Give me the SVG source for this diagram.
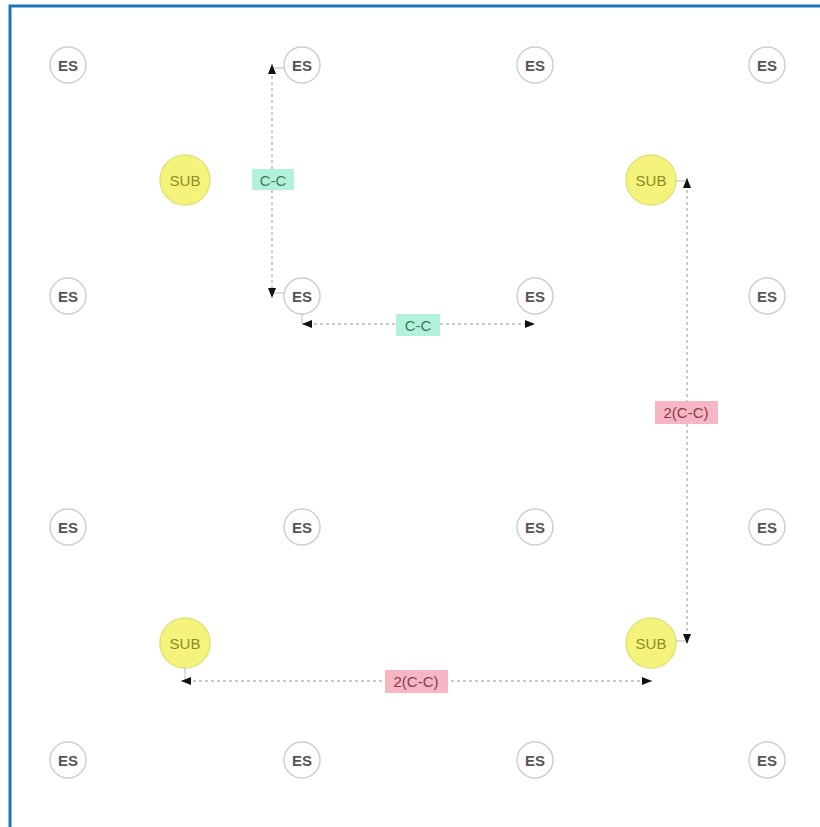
<svg xmlns="http://www.w3.org/2000/svg" width="820" height="827" viewBox="0 0 820 827">
<defs>
<marker id="arr" viewBox="0 0 10 10" refX="10" refY="5" markerWidth="10" markerHeight="10" orient="auto-start-reverse" markerUnits="userSpaceOnUse">
<path d="M0,1 L10,5 L0,9 Z" fill="#111"/>
</marker>
<style>
.es circle{fill:#fff;stroke:#cfcfcf;stroke-width:1.5}
.es text{fill:#555;font-family:"Liberation Sans",Arial,sans-serif;font-size:15px;text-anchor:middle;dominant-baseline:central;font-weight:bold}
.sub circle{fill:#f4f47c;stroke:#e2e27a;stroke-width:1.5}
.sub text{fill:#8c8c2a;font-family:"Liberation Sans",Arial,sans-serif;font-size:15px;text-anchor:middle;dominant-baseline:central}
.conn{fill:none;stroke:#bbb;stroke-width:1.5;stroke-dasharray:3 3}
.lead{fill:none;stroke:#bbb;stroke-width:1}
.lg rect{fill:#b2f2da}
.lg text{fill:#3b7a5e;font-family:"Liberation Sans",Arial,sans-serif;font-size:15px;text-anchor:middle;dominant-baseline:central}
.lp rect{fill:#f6b6c3}
.lp text{fill:#8a3b4c;font-family:"Liberation Sans",Arial,sans-serif;font-size:15px;text-anchor:middle;dominant-baseline:central}
</style>
</defs>
<rect x="0" y="0" width="820" height="827" fill="#fff"/>
<rect x="10" y="6" width="820" height="840" fill="none" stroke="#1a76b8" stroke-width="3"/>

<g id="es-0-0" class="es"><circle cx="68" cy="65" r="18"/><text x="68" y="65">ES</text></g>
<g id="es-0-1" class="es"><circle cx="302" cy="65" r="18"/><text x="302" y="65">ES</text></g>
<g id="es-0-2" class="es"><circle cx="535" cy="65" r="18"/><text x="535" y="65">ES</text></g>
<g id="es-0-3" class="es"><circle cx="767" cy="65" r="18"/><text x="767" y="65">ES</text></g>
<g id="es-1-0" class="es"><circle cx="68" cy="296" r="18"/><text x="68" y="296">ES</text></g>
<g id="es-1-1" class="es"><circle cx="302" cy="296" r="18"/><text x="302" y="296">ES</text></g>
<g id="es-1-2" class="es"><circle cx="535" cy="296" r="18"/><text x="535" y="296">ES</text></g>
<g id="es-1-3" class="es"><circle cx="767" cy="296" r="18"/><text x="767" y="296">ES</text></g>
<g id="es-2-0" class="es"><circle cx="68" cy="527" r="18"/><text x="68" y="527">ES</text></g>
<g id="es-2-1" class="es"><circle cx="302" cy="527" r="18"/><text x="302" y="527">ES</text></g>
<g id="es-2-2" class="es"><circle cx="535" cy="527" r="18"/><text x="535" y="527">ES</text></g>
<g id="es-2-3" class="es"><circle cx="767" cy="527" r="18"/><text x="767" y="527">ES</text></g>
<g id="es-3-0" class="es"><circle cx="68" cy="760" r="18"/><text x="68" y="760">ES</text></g>
<g id="es-3-1" class="es"><circle cx="302" cy="760" r="18"/><text x="302" y="760">ES</text></g>
<g id="es-3-2" class="es"><circle cx="535" cy="760" r="18"/><text x="535" y="760">ES</text></g>
<g id="es-3-3" class="es"><circle cx="767" cy="760" r="18"/><text x="767" y="760">ES</text></g>

<g id="sub-1" class="sub"><circle cx="185" cy="180" r="25"/><text x="185" y="180">SUB</text></g>
<g id="sub-2" class="sub"><circle cx="651" cy="180" r="25"/><text x="651" y="180">SUB</text></g>
<g id="sub-3" class="sub"><circle cx="185" cy="643" r="25"/><text x="185" y="643">SUB</text></g>
<g id="sub-4" class="sub"><circle cx="651" cy="643" r="25"/><text x="651" y="643">SUB</text></g>

<g id="connectors">
<path class="lead" d="M284,68 L274,68"/>
<path class="lead" d="M284,293 L274,293"/>
<path class="conn" d="M272,64 L272,298" marker-start="url(#arr)" marker-end="url(#arr)"/>
<path class="lead" d="M302,314 L302,324"/>
<path class="conn" d="M302,324 L535,324" marker-start="url(#arr)" marker-end="url(#arr)"/>
<path class="lead" d="M676,181 L686,181"/>
<path class="lead" d="M676,641 L686,641"/>
<path class="conn" d="M687,178 L687,644" marker-start="url(#arr)" marker-end="url(#arr)"/>
<path class="lead" d="M185,668 L185,681"/>
<path class="conn" d="M181,681 L652,681" marker-start="url(#arr)" marker-end="url(#arr)"/>
<g class="lg"><rect x="252" y="169" width="42" height="21"/><text x="273" y="180">C-C</text></g>
<g class="lg"><rect x="396" y="314" width="44" height="22"/><text x="418" y="325">C-C</text></g>
<g class="lp"><rect x="655" y="401" width="63" height="23"/><text x="686" y="412">2(C-C)</text></g>
<g class="lp"><rect x="385" y="670" width="63" height="23"/><text x="416" y="681">2(C-C)</text></g>
</g>
</svg>
